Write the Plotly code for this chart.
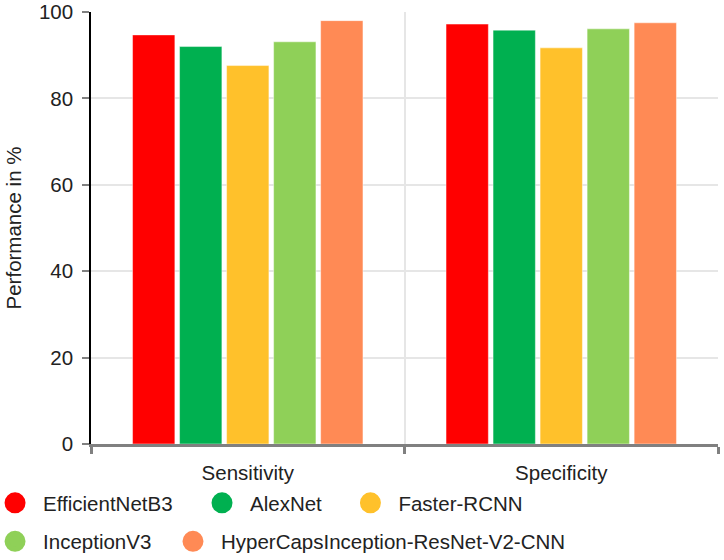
import plotly.graph_objects as go

categories = ["Sensitivity", "Specificity"]
models = ["EfficientNetB3", "AlexNet", "Faster-RCNN", "InceptionV3",
          "HyperCapsInception-ResNet-V2-CNN"]
colors = ["#FF0000", "#00B050", "#FFC12B", "#8FD058", "#FF8A55"]
efficientnet = [94.7, 97.2]
alexnet = [92.0, 95.8]
faster_rcnn = [87.6, 91.7]
inception = [93.1, 96.1]
hypercaps = [98.0, 97.5]
series = [efficientnet, alexnet, faster_rcnn, inception, hypercaps]
y_ticks = [0, 20, 40, 60, 80, 100]

FONT = "Liberation Sans, Arial, sans-serif"
FS = 20.5
fig = go.Figure()
for name, vals, col in zip(models, series, colors):
    fig.add_trace(go.Bar(x=categories, y=vals, name=name, marker_color=col,
                         marker_line=dict(color="rgba(255,255,255,0.45)", width=1),
                         showlegend=False))

# legend entries (circle symbols), each in its own legend for placement
leg_x = [-0.1658, 0.1643, 0.4010, -0.1658, 0.1180]
leg_y = [0.1018, 0.1018, 0.1018, 0.0330, 0.0330]
for i, (name, col) in enumerate(zip(models, colors)):
    lname = "legend" if i == 0 else f"legend{i+1}"
    fig.add_trace(go.Scatter(x=[None], y=[None], mode="markers", name=name,
                             marker=dict(color=col, size=16, symbol="circle",
                                         line=dict(color=col, width=5)),
                             legend=lname, showlegend=True))

layout_legends = {}
for i in range(5):
    lname = "legend" if i == 0 else f"legend{i+1}"
    layout_legends[lname] = dict(x=leg_x[i], y=leg_y[i], xref="paper",
                                 yref="container", xanchor="left",
                                 yanchor="middle", orientation="h",
                                 font=dict(family=FONT, size=FS, color="#222"),
                                 itemwidth=46, bgcolor="rgba(0,0,0,0)",
                                 borderwidth=0)

fig.update_layout(
    width=724, height=560,
    margin=dict(l=91, r=6, t=12, b=116, autoexpand=False),
    plot_bgcolor="white", paper_bgcolor="white",
    barmode="group", bargap=0.25, bargroupgap=0.1,
    font=dict(family=FONT, size=FS, color="#222"),
    **layout_legends,
)
fig.update_xaxes(
    type="category", tickson="boundaries", ticks="outside", ticklen=7,
    tickwidth=3, tickcolor="#808080", showgrid=True, gridcolor="#E6E6E6",
    gridwidth=2, showline=True, linecolor="#808080", linewidth=3,
    tickfont=dict(family=FONT, size=FS, color="#222"), ticklabelstandoff=8,
    mirror=False, automargin=False,
)
fig.update_yaxes(
    range=[0, 100], tickvals=y_ticks, ticks="outside", ticklen=7, tickwidth=2,
    tickcolor="#808080", showgrid=True, gridcolor="#E6E6E6", gridwidth=2,
    showline=True, linecolor="#000000", linewidth=1.5, zeroline=False,
    tickfont=dict(family=FONT, size=FS, color="#222"), ticklabelstandoff=5,
    title=dict(text="Performance in %", font=dict(family=FONT, size=FS, color="#222"),
               standoff=12),
    automargin=False,
)
fig.write_html("out.html")
